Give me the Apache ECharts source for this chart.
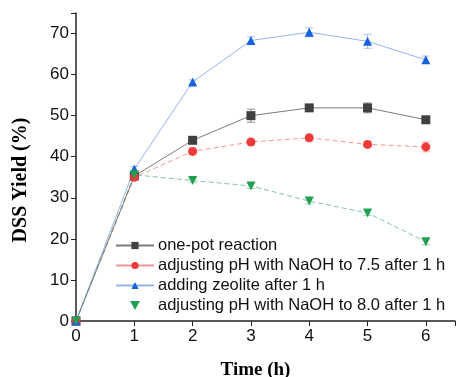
<!DOCTYPE html>
<html>
<head>
<meta charset="utf-8">
<script src="https://cdn.jsdelivr.net/npm/echarts@6/dist/echarts.min.js"></script>
<style>
  html, body { margin: 0; padding: 0; background: #fff; }
  #chart { width: 456px; height: 377px; }
</style>
</head>
<body>
<div id="chart"></div>
<script>
// data
var times = [0, 1, 2, 3, 4, 5, 6];
var onePot = [0, 35.3, 44.0, 50.0, 51.9, 51.9, 49.0];
var ph75 = [0, 35.0, 41.3, 43.6, 44.6, 43.0, 42.4];
var zeolite = [0, 37.0, 58.2, 68.3, 70.3, 68.1, 63.6];
var ph80 = [0, 35.6, 34.2, 32.9, 29.2, 26.3, 19.3];
// error bar half widths
var onePotErr = [0, 0.5, 0.6, 1.6, 0.4, 1.2, 0.8];
var ph75Err = [0, 0.5, 0.8, 0.6, 0.8, 0.7, 1.2];
var zeoliteErr = [0, 0.6, 0.5, 0.9, 1.1, 1.7, 0.9];
var ph80Err = [0, 0.5, 0.5, 0.6, 0.7, 0.6, 0.7];

var names = [
    'one-pot reaction',
    'adjusting pH with NaOH to 7.5 after 1 h',
    'adding zeolite after 1 h',
    'adjusting pH with NaOH to 8.0 after 1 h'
];
var colors = ['#404040', '#f03a3a', '#1662dc', '#22a052'];
var lineColors = ['rgba(80,80,80,0.75)', 'rgba(240,80,80,0.6)', 'rgba(90,140,230,0.65)', 'rgba(60,170,110,0.65)'];

var myChart = echarts.init(document.getElementById('chart'));

function pairs(ys) {
    return times.map(function (t, i) { return [t, ys[i]]; });
}

// 误差棒
function errSeries(ys, errs, color) {
    return {
        type: 'custom',
        silent: true,
        z: 1,
        data: times.map(function (t, i) { return [t, ys[i] - errs[i], ys[i] + errs[i]]; }),
        renderItem: function (params, api) {
            var lo = api.coord([api.value(0), api.value(1)]);
            var hi = api.coord([api.value(0), api.value(2)]);
            var w = 4;
            var st = { stroke: color, lineWidth: 1 };
            return {
                type: 'group',
                children: [
                    { type: 'line', shape: { x1: lo[0], y1: lo[1], x2: hi[0], y2: hi[1] }, style: st },
                    { type: 'line', shape: { x1: lo[0] - w, y1: lo[1], x2: lo[0] + w, y2: lo[1] }, style: st },
                    { type: 'line', shape: { x1: hi[0] - w, y1: hi[1], x2: hi[0] + w, y2: hi[1] }, style: st }
                ]
            };
        }
    };
}

var lineSeries = function (idx, ys, symbol, dashed, rotate) {
    return {
        name: names[idx],
        type: 'line',
        data: pairs(ys),
        symbol: symbol,
        symbolSize: 9,
        symbolRotate: rotate || 0,
        z: 3,
        itemStyle: { color: colors[idx] },
        lineStyle: { color: lineColors[idx], width: 1, type: dashed ? [5, 3] : 'solid' }
    };
};

var option = {
    animation: false,
    textStyle: { fontFamily: 'Liberation Sans, Arial, sans-serif' },
    grid: { left: 76, right: 1, top: 13, bottom: 56, containLabel: false, outerBoundsMode: 'none' },
    legend: {
        orient: 'vertical',
        left: 110,
        top: 232,
        itemGap: 3,
        itemWidth: 38,
        itemHeight: 9,
        textStyle: { fontSize: 16.5, color: '#111', padding: [0, 0, 0, -1] },
        data: [
            { name: names[0] },
            { name: names[1], lineStyle: { type: 'solid' } },
            { name: names[2] },
            { name: names[3], icon: 'path://M0,0 L10,0 L5,9 Z' }
        ]
    },
    xAxis: {
        type: 'value',
        min: 0,
        max: 6.5,
        interval: 1,
        name: 'Time (h)',
        nameLocation: 'middle',
        nameGap: 40,
        nameTextStyle: { fontFamily: 'Liberation Serif, Times New Roman, serif', fontWeight: 'bold', fontSize: 19, color: '#000', padding: [0, 20, 0, 0] },
        axisLine: { lineStyle: { color: '#222', width: 1.5 } },
        axisTick: { inside: false, length: 5, lineStyle: { color: '#222' } },
        axisLabel: {
            fontSize: 17, color: '#111', margin: 7,
            formatter: function (v) { return v <= 6 ? String(v) : ''; }
        },
        splitLine: { show: false }
    },
    yAxis: {
        type: 'value',
        min: 0,
        max: 75,
        interval: 10,
        name: 'DSS Yield (%)',
        nameLocation: 'middle',
        nameGap: 45,
        nameTextStyle: { fontFamily: 'Liberation Serif, Times New Roman, serif', fontWeight: 'bold', fontSize: 20, color: '#000', padding: [0, 26, 0, 0] },
        axisLine: { show: true, lineStyle: { color: '#222', width: 1.5 } },
        axisTick: { show: true, inside: false, length: 5, lineStyle: { color: '#222' } },
        axisLabel: {
            fontSize: 17, color: '#111', margin: 7,
            formatter: function (v) { return v <= 70 ? String(v) : ''; }
        },
        splitLine: { show: false }
    },
    series: [
        errSeries(onePot, onePotErr, 'rgba(80,80,80,0.6)'),
        errSeries(ph75, ph75Err, 'rgba(240,80,80,0.5)'),
        errSeries(zeolite, zeoliteErr, 'rgba(90,140,230,0.5)'),
        errSeries(ph80, ph80Err, 'rgba(60,170,110,0.5)'),
        lineSeries(0, onePot, 'rect', false),
        lineSeries(1, ph75, 'circle', true),
        lineSeries(2, zeolite, 'triangle', false),
        lineSeries(3, ph80, 'triangle', true, 180)
    ]
};

myChart.setOption(option);
</script>
</body>
</html>
